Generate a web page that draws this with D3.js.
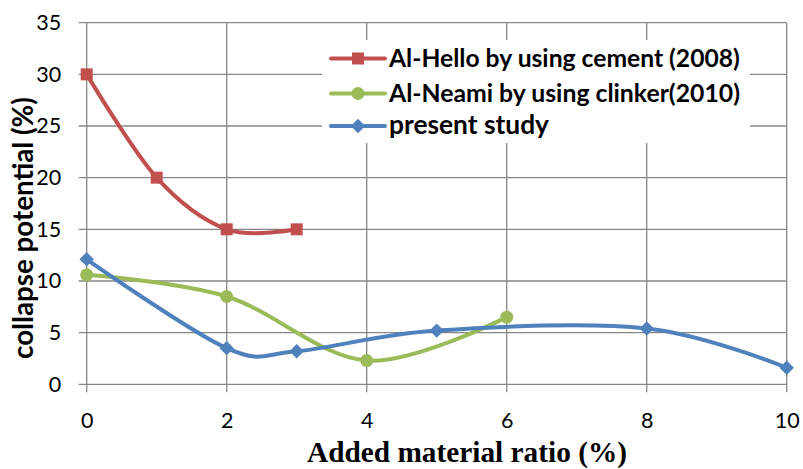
<!DOCTYPE html>
<html><head><meta charset="utf-8">
<script src="https://cdn.jsdelivr.net/npm/d3@7"></script>
<style>body{margin:0;background:#fff}svg{display:block}</style>
</head><body>
<svg id="c" width="803" height="469"></svg>
<script>
const xTicks = [0, 2, 4, 6, 8, 10];
const yTicks = [0, 5, 10, 15, 20, 25, 30, 35];
const seriesNames = ["Al-Hello by using cement (2008)", "Al-Neami by using clinker(2010)", "present study"];
const helloX = [0, 1, 2, 3];
const helloY = [30, 20, 15, 15];
const neamiX = [0, 2, 4, 6];
const neamiY = [10.6, 8.5, 2.3, 6.5];
const presentX = [0, 2, 3, 5, 8, 10];
const presentY = [12.1, 3.5, 3.2, 5.2, 5.4, 1.6];
const xLabel = "Added material ratio (%)";
const yLabel = "collapse potential (%)";

const colors = ["#C0504D", "#9BBB59", "#4F81BD"];
const markers = ["square", "circle", "diamond"];
const series = [
  {name: seriesNames[0], pts: helloX.map((x, i) => [x, helloY[i]])},
  {name: seriesNames[1], pts: neamiX.map((x, i) => [x, neamiY[i]])},
  {name: seriesNames[2], pts: presentX.map((x, i) => [x, presentY[i]])}
];

const svg = d3.select("#c");
const L = 86.7, R = 786.7, T = 22.7, B = 384.3;
const x = d3.scaleLinear().domain([0, 10]).range([L, R]);
const y = d3.scaleLinear().domain([0, 35]).range([B, T]);
const grid = "#878787";
const tickFont = "Lato, 'Open Sans', sans-serif";

// grid
const g = svg.append("g");
g.selectAll(".hg").data(yTicks).join("line")
  .attr("x1", L - 8).attr("x2", R).attr("y1", d => y(d)).attr("y2", d => y(d))
  .attr("stroke", grid).attr("stroke-width", 1.3);
g.selectAll(".vg").data(xTicks).join("line")
  .attr("x1", d => x(d)).attr("x2", d => x(d)).attr("y1", T).attr("y2", B + 8)
  .attr("stroke", grid).attr("stroke-width", 1.3);

// axis labels via d3 axes (no domain lines, text only)
const yAxis = svg.append("g").attr("transform", `translate(${L - 8},0)`)
  .call(d3.axisLeft(y).tickValues(yTicks).tickSize(0).tickPadding(17.5));
const xAxis = svg.append("g").attr("transform", `translate(0,${B + 8})`)
  .call(d3.axisBottom(x).tickValues(xTicks).tickSize(0));
[yAxis, xAxis].forEach(a => {
  a.select(".domain").remove();
  a.selectAll("text").attr("font-family", tickFont).attr("font-size", 21.5).attr("fill", "#000");
});
xAxis.selectAll("text").attr("y", 428 - (B + 8)).attr("dy", 0);

// lines
const line = d3.line().x(d => x(d[0])).y(d => y(d[1])).curve(d3.curveCardinal.tension(0));
function marker(sel, type, color, s) {
  if (type === "square") sel.append("rect").attr("x", -s/2).attr("y", -s/2).attr("width", s).attr("height", s).attr("fill", color);
  else if (type === "circle") sel.append("circle").attr("r", s/2 + 0.5).attr("fill", color);
  else sel.append("path").attr("d", `M0,${-s*0.6}L${s*0.6},0L0,${s*0.6}L${-s*0.6},0Z`).attr("fill", color);
}
series.forEach((s, i) => {
  svg.append("path").datum(s.pts).attr("d", line).attr("fill", "none")
    .attr("stroke", colors[i]).attr("stroke-width", 4).attr("stroke-linejoin", "round");
});
series.forEach((s, i) => {
  s.pts.forEach(p => {
    const m = svg.append("g").attr("transform", `translate(${x(p[0])},${y(p[1])})`);
    marker(m, markers[i], colors[i], 12);
  });
});

// legend
const lg = svg.append("g");
lg.append("rect").attr("x", 322).attr("y", 40).attr("width", 428).attr("height", 103).attr("fill", "#fff");
const rowsY = [58.5, 93.5, 126];
const legFont = "Lato, 'Open Sans', sans-serif";
series.forEach((s, i) => {
  const r = lg.append("g").attr("transform", `translate(0,${rowsY[i]})`);
  r.append("line").attr("x1", 331).attr("x2", 385).attr("stroke", colors[i]).attr("stroke-width", 4).attr("stroke-linecap", "round");
  marker(r.append("g").attr("transform", "translate(358,0)"), markers[i], colors[i], 12);
  r.append("text").attr("x", 389).attr("y", 8).text(s.name)
    .attr("font-family", legFont).attr("font-weight", "bold").attr("font-size", 21).attr("fill", "#000");
});

// axis titles
const xt = svg.append("text").attr("x", 467).attr("y", 462).attr("text-anchor", "middle")
  .attr("font-family", "'Liberation Serif', 'Times New Roman', serif").attr("font-weight", "bold")
  .attr("font-size", 26).attr("fill", "#000").text(xLabel);
const yt = svg.append("text").attr("transform", "translate(33,228) rotate(-90)").attr("text-anchor", "middle")
  .attr("font-family", legFont).attr("font-weight", "bold").attr("font-size", 22).attr("fill", "#000").text(yLabel);

// fit font sizes to reference text widths
function fit(t, w) {
  const cur = t.node().getComputedTextLength();
  const fs = +t.attr("font-size");
  t.attr("font-size", (fs * w / cur).toFixed(2));
}
fit(xt, 320);
fit(yt, 262);
const legW = [351, 351, 160];
lg.selectAll("text").each(function(d, i) { fit(d3.select(this), legW[i]); });
</script>
</body></html>
